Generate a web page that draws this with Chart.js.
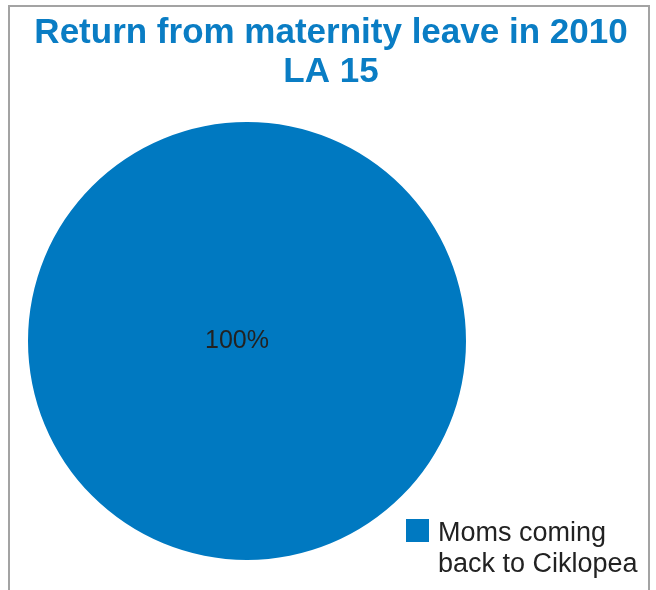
<!DOCTYPE html>
<html>
<head>
<meta charset="utf-8">
<script src="https://cdn.jsdelivr.net/npm/chart.js@4"></script>
<style>
  body { margin: 0; background: #fff; }
  #frame {
    position: absolute; left: 8px; top: 5px; width: 638px; height: 600px;
    border: 2px solid #a3a3a3; border-bottom: none;
  }
  #wrap { position: absolute; left: 0; top: 0; width: 656px; height: 590px; }
</style>
</head>
<body>
<div id="frame"></div>
<div id="wrap"><canvas id="pieChart" width="656" height="590"></canvas></div>
<script>
var categories = ['Moms coming back to Ciklopea'];
var legendLines = [['Moms coming', 'back to Ciklopea']];
var values = [100];
var sliceColors = ['#0079c1'];
var titleLines = ['Return from maternity leave in 2010', 'LA 15'];

var FONT = '"Liberation Sans", Arial, sans-serif';

// title centred over the whole canvas, not just the pie area
var wideTitle = {
    id: 'wideTitle',
    afterDraw: function (chart) {
        var ctx = chart.ctx;
        ctx.save();
        ctx.fillStyle = '#0a7dc4';
        ctx.font = 'bold 35px ' + FONT;
        ctx.textAlign = 'center';
        ctx.textBaseline = 'alphabetic';
        titleLines.forEach(function (line, i) {
            ctx.fillText(line, 331, 43 + i * 39);
        });
        ctx.restore();
    }
};

// percentage label in the middle of the pie
var pctLabel = {
    id: 'pctLabel',
    afterDatasetsDraw: function (chart) {
        var ctx = chart.ctx;
        var arc = chart.getDatasetMeta(0).data[0];
        var total = values.reduce(function (a, b) { return a + b; }, 0);
        ctx.save();
        ctx.fillStyle = '#222';
        ctx.font = '25px ' + FONT;
        ctx.textAlign = 'center';
        ctx.textBaseline = 'middle';
        ctx.fillText(Math.round(values[0] / total * 100) + '%', arc.x - 10, arc.y);
        ctx.restore();
    }
};

// legend box at the lower right, wrapped on two lines
var sideLegend = {
    id: 'sideLegend',
    afterDraw: function (chart) {
        var ctx = chart.ctx;
        var x = 406, y = 519;
        ctx.save();
        for (var i = 0; i < categories.length; i++) {
            ctx.fillStyle = sliceColors[i];
            ctx.fillRect(x, y, 23, 23);
            ctx.fillStyle = '#222';
            ctx.font = '27px ' + FONT;
            ctx.textBaseline = 'alphabetic';
            legendLines[i].forEach(function (line, k) {
                ctx.fillText(line, x + 32, y + 22 + k * 31);
            });
        }
        ctx.restore();
    }
};

new Chart(document.getElementById('pieChart'), {
    type: 'pie',
    data: {
        labels: categories,
        datasets: [{
            data: values,
            backgroundColor: sliceColors,
            borderWidth: 0
        }]
    },
    options: {
        responsive: false,
        animation: false,
        layout: { padding: { left: 28, right: 190, top: 122, bottom: 30 } },
        plugins: {
            legend: { display: false },
            tooltip: { enabled: false },
            title: { display: false }
        }
    },
    plugins: [wideTitle, pctLabel, sideLegend]
});
</script>
</body>
</html>
